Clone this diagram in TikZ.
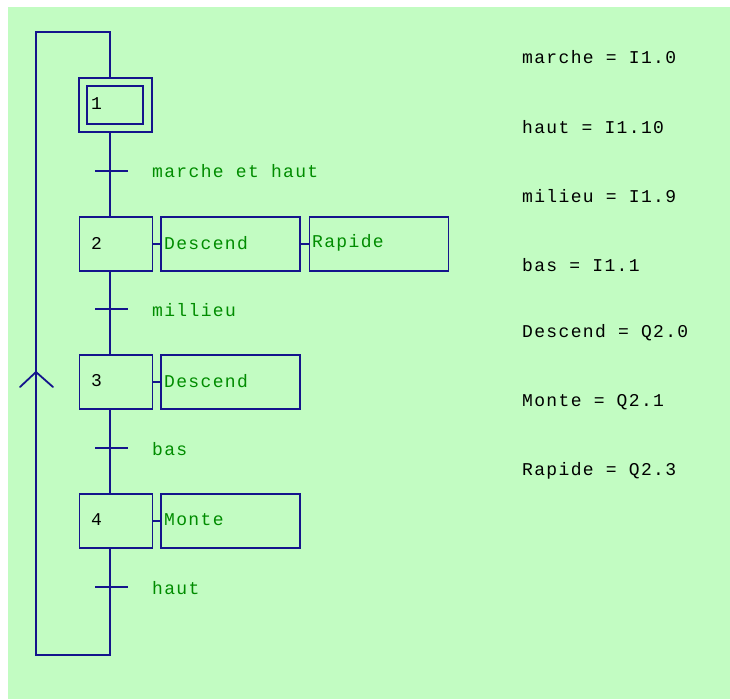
\documentclass[tikz,border=0pt]{standalone}
\usepackage{fontspec}
\newfontfamily\gmono[LetterSpace=7.5]{Liberation Mono}
\definecolor{bgg}{RGB}{194,252,194}
\definecolor{lnb}{RGB}{20,20,140}
\definecolor{txg}{RGB}{0,140,0}
\begin{document}
\begin{tikzpicture}[x=1pt,y=-1pt,
  ln/.style={draw=lnb,line width=1.8pt},
  stepbox/.style={ln,minimum width=73pt,minimum height=54pt,inner sep=0pt},
  actbox/.style={ln,minimum width=139pt,minimum height=54pt,inner sep=0pt},
  num/.style={anchor=west,inner sep=0pt,font=\gmono\fontsize{18}{18}\selectfont,text=black},
  gtxt/.style={anchor=west,inner sep=0pt,font=\gmono\fontsize{18}{18}\selectfont,text=txg},
  btxt/.style={anchor=west,inner sep=0pt,font=\gmono\fontsize{18}{18}\selectfont,text=black}]
\useasboundingbox (0,0) rectangle (730,699);
\fill[white] (0,0) rectangle (730,699);
\fill[bgg] (8,7) rectangle (730,699);
% steps
\node[stepbox] (s1) at (115.5,105) {};
\node[ln,minimum width=56pt,minimum height=38pt,inner sep=0pt] (s1i) at (115,105) {};
\node[stepbox] (s2) at (116,244) {};
\node[stepbox] (s3) at (116,382) {};
\node[stepbox] (s4) at (116,521) {};
\node[num] (n1) at (91,104) {1};
\node[num] (n2) at (91,243) {2};
\node[num] (n3) at (91,381) {3};
\node[num] (n4) at (91,520) {4};
% actions
\node[actbox] (a2) at (230.5,244) {};
\node[actbox] (a2b) at (379,244) {};
\node[actbox] (a3) at (230.5,382) {};
\node[actbox] (a4) at (230.5,521) {};
\node[gtxt] (a2t) at (164,243) {Descend};
\node[gtxt] (a2bt) at (312,243) {Rapide};
\node[gtxt] (a3t) at (164,381) {Descend};
\node[gtxt] (a4t) at (164,520) {Monte};
\draw[ln] (s2.east) -- (a2.west);
\draw[ln] (a2.east) -- (a2b.west);
\draw[ln] (s3.east) -- (a3.west);
\draw[ln] (s4.east) -- (a4.west);
% main line
\coordinate (v) at (110,0);
\coordinate (t1) at (110,171);
\coordinate (t2) at (110,309);
\coordinate (t3) at (110,448);
\coordinate (t4) at (110,587);
\coordinate (bot) at (110,655);
\coordinate (bl) at (36,655);
\coordinate (tl) at (36,32);
\coordinate (tr) at (110,32);
\coordinate (arr) at (36,372);
\draw[ln] (s1.south -| v) -- (s2.north -| v);
\draw[ln] (s2.south -| v) -- (s3.north -| v);
\draw[ln] (s3.south -| v) -- (s4.north -| v);
\draw[ln] (s4.south -| v) -- (bot) -- (bl) -- (tl) -- (tr) -- (s1.north -| v);
\draw[ln,line cap=round] ([xshift=-16pt,yshift=-15pt]arr) -- (arr) -- ([xshift=17pt,yshift=-15pt]arr);
% transitions
\foreach \t in {t1,t2,t3,t4}{\draw[ln] ([xshift=-15pt]\t) -- ([xshift=18pt]\t);}
\node[gtxt] (l1) at (152,171) {marche et haut};
\node[gtxt] (l2) at (152,310) {millieu};
\node[gtxt] (l3) at (152,449) {bas};
\node[gtxt] (l4) at (152,588) {haut};
% legend
\node[btxt] (r1) at (522,57) {marche = I1.0};
\node[btxt] (r2) at (522,127) {haut = I1.10};
\node[btxt] (r3) at (522,196) {milieu = I1.9};
\node[btxt] (r4) at (522,265) {bas = I1.1};
\node[btxt] (r5) at (522,333) {Descend = Q2.0};
\node[btxt] (r6) at (522,402) {Monte = Q2.1};
\node[btxt] (r7) at (522,471) {Rapide = Q2.3};
\end{tikzpicture}
\end{document}
